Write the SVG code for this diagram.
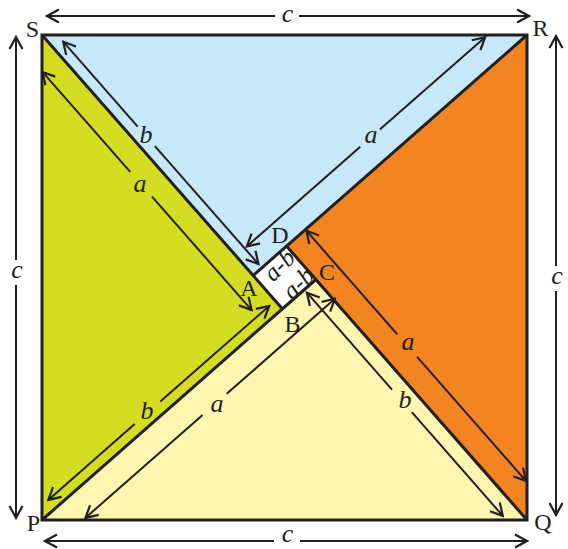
<svg xmlns="http://www.w3.org/2000/svg" width="568" height="549" viewBox="0 0 568 549">
<style>
.edge{fill:none;stroke:#231f20;stroke-width:3;stroke-linejoin:miter}
.dim{fill:none;stroke:#231f20;stroke-width:2;marker-end:url(#ah)}
.lbl{font-family:"Liberation Serif","Times New Roman",serif;font-size:24px;fill:#231f20;text-anchor:middle}
.var{font-family:"Liberation Serif","Times New Roman",serif;font-style:italic;font-size:26px;fill:#231f20;text-anchor:middle}
.ab{font-family:"Liberation Serif","Times New Roman",serif;font-style:italic;font-size:25px;fill:#231f20;text-anchor:middle}
</style>
<defs>
<marker id="ah" viewBox="-14 -8 16 16" markerWidth="16" markerHeight="16" refX="0" refY="0" orient="auto" markerUnits="userSpaceOnUse">
<path d="M-12,-6.5 L0,0 L-12,6.5" fill="none" stroke="#231f20" stroke-width="2.2"/>
</marker>
</defs>
<rect width="568" height="549" fill="#ffffff"/>

<g id="triangle-SRA">
<polygon points="42,35 527,35 253.1,275.5" fill="#c6e8f8"/>
</g>
<g id="triangle-RQD">
<polygon points="527,35 527,520 286.5,246.1" fill="#f28421"/>
</g>
<g id="triangle-QPC">
<polygon points="527,520 42,520 315.9,279.5" fill="#fef5b0"/>
</g>
<g id="triangle-PSB">
<polygon points="42,520 42,35 282.5,308.9" fill="#d5dd23"/>
</g>
<g id="square-ADCB">
<polygon points="253.1,275.5 286.5,246.1 315.9,279.5 282.5,308.9" fill="#ffffff"/>
<text class="ab" transform="translate(280,266) rotate(-45)" x="0" y="7">a-b</text>
<text class="ab" transform="translate(299,284) rotate(-45)" x="0" y="7">a-b</text>
</g>
<g id="edges">
<rect class="edge" x="42" y="35" width="485" height="485"/>
<line class="edge" x1="42" y1="35" x2="282.5" y2="308.9"/>
<line class="edge" x1="527" y1="35" x2="253.1" y2="275.5"/>
<line class="edge" x1="527" y1="520" x2="286.5" y2="246.1"/>
<line class="edge" x1="42" y1="520" x2="315.9" y2="279.5"/>
</g>

<g id="connectors">
<line class="dim" x1="275" y1="16" x2="47" y2="16"/>
<line class="dim" x1="299" y1="16" x2="529" y2="16"/>
<line class="dim" x1="274" y1="541" x2="45" y2="541"/>
<line class="dim" x1="300" y1="541" x2="527" y2="541"/>
<line class="dim" x1="16" y1="260" x2="16" y2="37"/>
<line class="dim" x1="16" y1="285" x2="16" y2="518"/>
<line class="dim" x1="556" y1="266" x2="556" y2="36"/>
<line class="dim" x1="556" y1="291" x2="556" y2="515"/>

<line class="dim" x1="137.7" y1="126.6" x2="63.2" y2="41.7"/>
<line class="dim" x1="154.9" y1="146.1" x2="258.5" y2="264.1"/>
<line class="dim" x1="379.8" y1="129.6" x2="485.1" y2="37.2"/>
<line class="dim" x1="360.3" y1="146.8" x2="246.8" y2="246.4"/>
<line class="dim" x1="397.3" y1="334.4" x2="306.3" y2="230.7"/>
<line class="dim" x1="417.1" y1="356.9" x2="526" y2="481"/>
<line class="dim" x1="392" y1="389.7" x2="306.9" y2="292.7"/>
<line class="dim" x1="411.8" y1="412.2" x2="502.8" y2="515.9"/>
<line class="dim" x1="202.6" y1="414.9" x2="85.4" y2="517.9"/>
<line class="dim" x1="226.7" y1="393.8" x2="334.9" y2="298.8"/>
<line class="dim" x1="134.7" y1="424" x2="48.3" y2="499.9"/>
<line class="dim" x1="160.3" y1="401.6" x2="269.2" y2="305.9"/>
<line class="dim" x1="130.2" y1="171.8" x2="42.4" y2="71.9"/>
<line class="dim" x1="152" y1="196.6" x2="251.6" y2="310.1"/>
</g>

<g id="labels">
<text class="var" x="287.5" y="22">c</text>
<text class="var" x="287.5" y="542">c</text>
<text class="var" x="17" y="278">c</text>
<text class="var" x="557" y="284">c</text>
<text class="var" x="146" y="143">b</text>
<text class="var" x="371" y="143">a</text>
<text class="var" x="408" y="350">a</text>
<text class="var" x="405" y="408">b</text>
<text class="var" x="217" y="412">a</text>
<text class="var" x="147" y="419">b</text>
<text class="var" x="140" y="192">a</text>
<text class="lbl" x="32.5" y="37">S</text>
<text class="lbl" x="540.5" y="36">R</text>
<text class="lbl" x="33.5" y="531">P</text>
<text class="lbl" x="543" y="530">Q</text>
<text class="lbl" x="280" y="243">D</text>
<text class="lbl" x="327" y="280">C</text>
<text class="lbl" x="249" y="296">A</text>
<text class="lbl" x="292.5" y="332">B</text>
</g>
</svg>
